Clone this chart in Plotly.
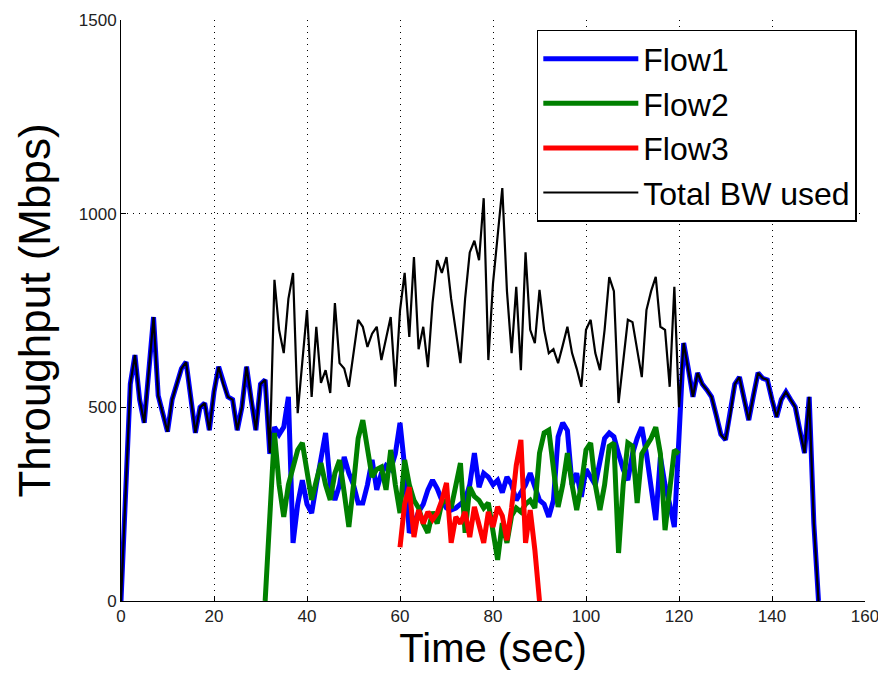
import plotly.graph_objects as go

# ---- data ----
t_total = list(range(0, 151))
total_bw = [0, 300, 560, 635, 520, 460, 600, 733, 530, 485,
            437, 520, 563, 600, 617, 520, 434, 500, 511, 441,
            540, 605, 560, 527, 520, 441, 500, 605, 520, 441,
            560, 571, 382, 829, 700, 640, 780, 847, 485, 620,
            751, 527, 708, 563, 596, 537, 769, 614, 600, 553,
            640, 726, 708, 656, 690, 708, 622, 680, 733, 553,
            750, 847, 682, 888, 650, 708, 604, 770, 880, 847,
            888, 780, 700, 614, 780, 900, 930, 880, 1040, 622,
            820, 950, 1066, 800, 640, 811, 596, 900, 700, 666,
            803, 700, 640, 650, 614, 660, 708, 640, 600, 553,
            700, 726, 640, 596, 700, 836, 800, 511, 622, 726,
            720, 650, 578, 751, 800, 837, 708, 700, 553, 811,
            500, 666, 600, 527, 589, 560, 545, 527, 480, 430,
            416, 480, 560, 578, 520, 467, 530, 589, 575, 571,
            520, 475, 520, 540, 520, 501, 440, 382, 527, 200,
            0]

t_flow1 = list(range(0, 151))
flow1 = [0, 300, 560, 635, 520, 460, 600, 733, 530, 485,
         437, 520, 563, 600, 617, 520, 434, 500, 511, 441,
         540, 605, 560, 527, 520, 441, 500, 605, 520, 441,
         560, 571, 380, 449, 430, 449, 527, 150, 250, 312,
         250, 227, 300, 372, 434, 300, 261, 300, 372, 330,
         300, 253, 253, 300, 364, 287, 330, 350, 340, 380,
         460, 346, 176, 200, 230, 250, 287, 312, 290, 260,
         240, 235, 240, 250, 260, 300, 382, 294, 330, 320,
         300, 312, 280, 320, 300, 260, 280, 300, 330, 290,
         260, 250, 217, 260, 424, 460, 440, 300, 330, 269,
         340, 320, 300, 360, 420, 434, 424, 380, 340, 312,
         380, 420, 449, 380, 300, 209, 372, 300, 250, 191,
         424, 666, 600, 527, 589, 560, 545, 527, 480, 430,
         416, 480, 560, 578, 520, 467, 530, 589, 575, 571,
         520, 475, 520, 540, 520, 501, 440, 382, 527, 200,
         0]

t_flow2 = list(range(31, 121))
flow2 = [0, 200, 434, 300, 217, 300, 350, 390, 408, 330,
         261, 310, 356, 300, 261, 330, 364, 280, 191, 300,
         420, 467, 400, 320, 340, 346, 287, 390, 300, 227,
         364, 300, 260, 240, 200, 176, 230, 200, 253, 260,
         240, 300, 356, 176, 294, 270, 260, 240, 253, 180,
         106, 201, 150, 220, 240, 230, 250, 260, 240, 382,
         434, 441, 350, 243, 300, 382, 300, 235, 300, 390,
         408, 300, 235, 300, 400, 408, 124, 300, 408, 400,
         253, 380, 400, 420, 449, 380, 183, 300, 390, 380]

t_flow3 = list(range(60, 91))
flow3 = [139, 250, 294, 165, 235, 200, 230, 210, 227, 260,
         305, 150, 217, 200, 230, 165, 243, 200, 150, 230,
         191, 243, 220, 157, 240, 350, 416, 150, 235, 132,
         0]

x_ticks = [0, 20, 40, 60, 80, 100, 120, 140, 160]
y_ticks = [0, 500, 1000, 1500]

FONT = "Liberation Sans, Arial, Helvetica, sans-serif"

fig = go.Figure()
fig.add_trace(go.Scatter(x=t_flow1, y=flow1, mode="lines", name="Flow1",
                         legendgroup="a",
                         line=dict(color="#0000FF", width=5)))
fig.add_trace(go.Scatter(x=t_flow2, y=flow2, mode="lines", name="Flow2",
                         legendgroup="b",
                         line=dict(color="#008000", width=5)))
fig.add_trace(go.Scatter(x=t_flow3, y=flow3, mode="lines", name="Flow3",
                         legendgroup="c",
                         line=dict(color="#FF0000", width=5)))
fig.add_trace(go.Scatter(x=t_total, y=total_bw, mode="lines", name="Total BW used",
                         legendgroup="d",
                         line=dict(color="#000000", width=2.2)))

axis_common = dict(
    showline=True, linecolor="black", linewidth=1,
    ticks="inside", ticklen=5, tickcolor="black", tickwidth=1,
    showgrid=True, gridcolor="black", gridwidth=1, griddash="1px,5px",
    zeroline=False, automargin=False,
    tickfont=dict(family=FONT, size=17, color="#222"),
)

fig.update_xaxes(range=[0, 160], tickvals=x_ticks, ticktext=[str(v) for v in x_ticks],
                 title=dict(text="Time (sec)", font=dict(family=FONT, size=40, color="black"),
                            standoff=4),
                 **axis_common)
fig.update_yaxes(range=[0, 1500], tickvals=y_ticks, ticktext=[str(v) for v in y_ticks],
                 title=dict(text="Throughput (Mbps)", font=dict(family=FONT, size=44, color="black"),
                            standoff=14),
                 **axis_common)

# the page body adds an 8px margin, so the figure is 8px smaller than the window
fig.update_layout(
    width=878, height=672,
    margin=dict(l=113, r=21, t=12, b=79),
    paper_bgcolor="white", plot_bgcolor="white",
    showlegend=True,
    legend=dict(x=0.989, y=0.983, xanchor="right", yanchor="top",
                bgcolor="white", bordercolor="black", borderwidth=1.5,
                font=dict(family=FONT, size=32, color="black"),
                itemwidth=95,
                tracegroupgap=0, traceorder="grouped"),
)

fig.write_html("out.html")
